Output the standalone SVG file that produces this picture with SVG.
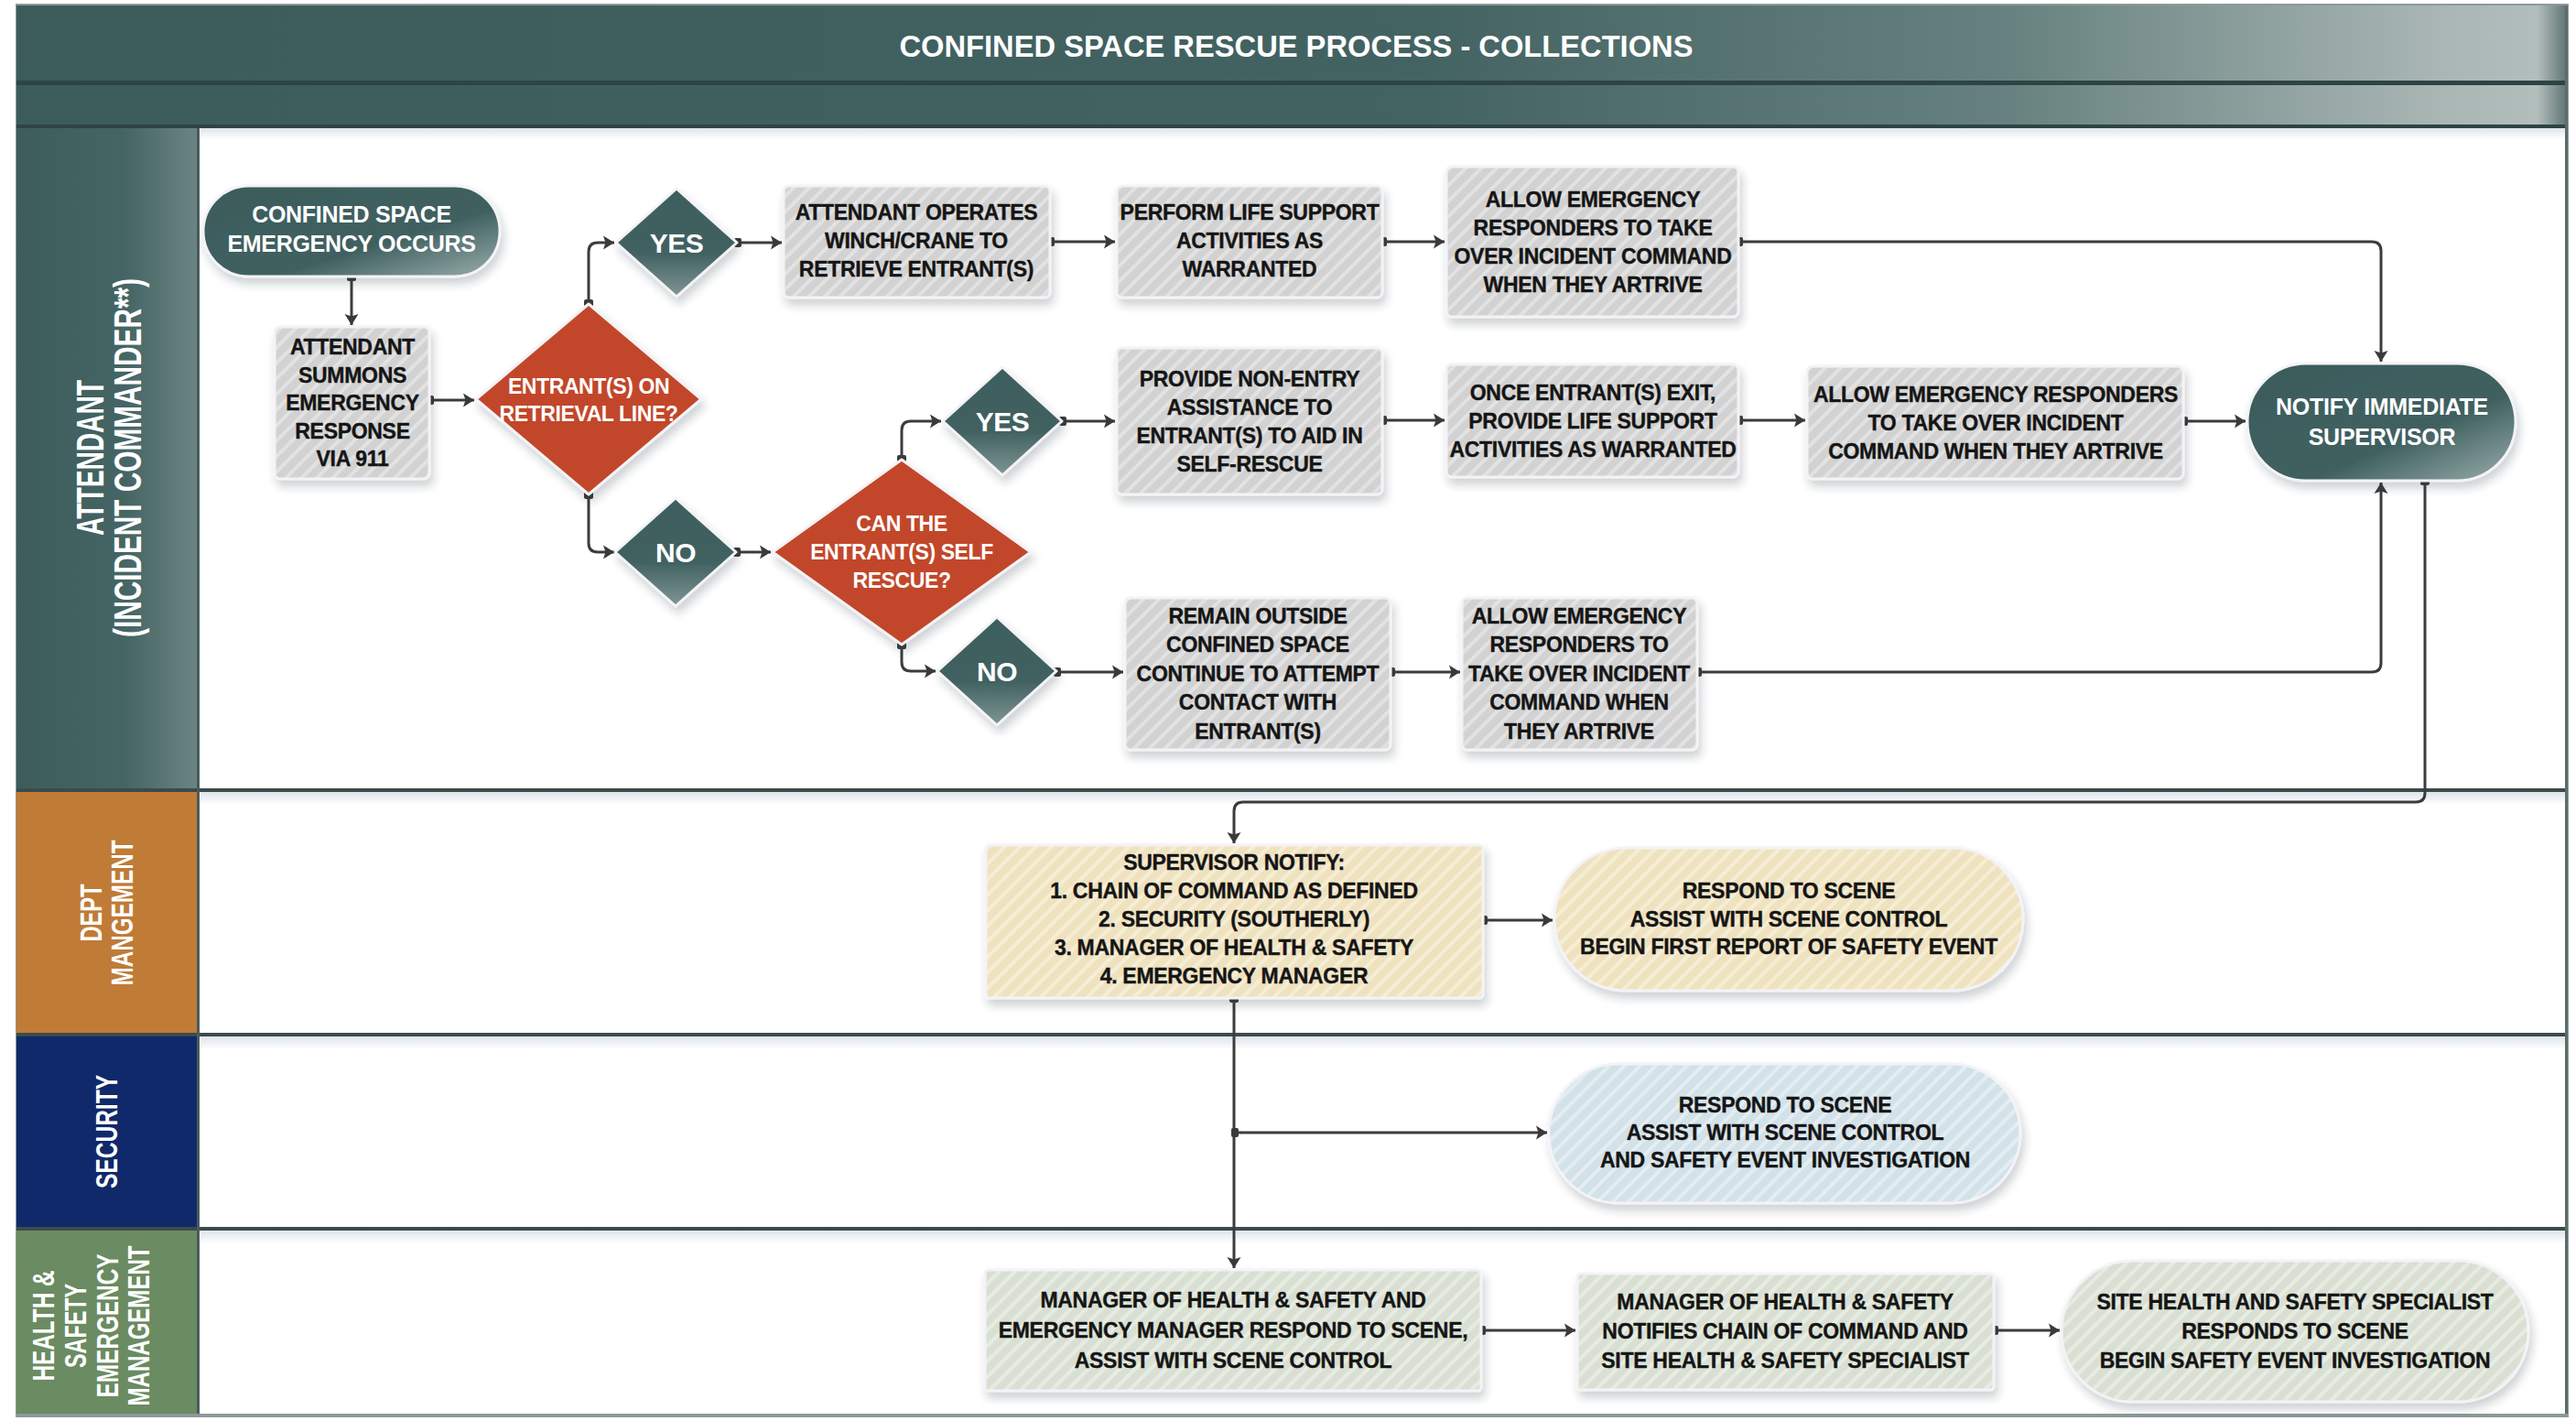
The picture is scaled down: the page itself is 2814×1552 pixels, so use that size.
<svg xmlns="http://www.w3.org/2000/svg" width="2814" height="1552" viewBox="0 0 2814 1552">
  <style>
    .lbl{font-family:"Liberation Sans",Arial,Helvetica,sans-serif;font-weight:700;text-anchor:middle}
    .dk{fill:#151515;font-size:23px;letter-spacing:-0.3px;stroke:#151515;stroke-width:0.4px}
    .wt{fill:#ffffff;font-size:25px;letter-spacing:-0.3px}
    .dq{fill:#ffffff;font-size:23px;letter-spacing:-0.4px}
    .yn{fill:#ffffff;font-size:30px;letter-spacing:-0.5px}
    .hd{fill:#ffffff;font-size:34px}
    .hd1{fill:#ffffff;font-size:42px}
    .tt{fill:#ffffff;font-size:34px}
    .box{stroke:#f3f3f7;stroke-width:3;filter:url(#shadow)}
    .conn path{fill:none;stroke:#3c3c3c;stroke-width:3;marker-start:url(#dot);marker-end:url(#arr)}
    .sep{fill:#3b4b4b}
  </style>
  <defs>
    <filter id="shadow" x="-10%" y="-15%" width="125%" height="140%">
      <feDropShadow dx="3" dy="7" stdDeviation="5" flood-color="#2a3340" flood-opacity="0.22"/>
    </filter>
    <linearGradient id="titleGrad" x1="0" y1="0" x2="1" y2="0">
      <stop offset="0" stop-color="#3c5b5b"/>
      <stop offset="0.55" stop-color="#436362"/>
      <stop offset="0.78" stop-color="#66817f"/>
      <stop offset="0.95" stop-color="#a9b6b4"/>
      <stop offset="0.988" stop-color="#b3bebc"/>
      <stop offset="1" stop-color="#5d7271"/>
    </linearGradient>
    <linearGradient id="laneHead" x1="0" y1="0" x2="1" y2="0">
      <stop offset="0" stop-color="#3d5c5c"/>
      <stop offset="0.6" stop-color="#456564"/>
      <stop offset="1" stop-color="#6b8483"/>
    </linearGradient>
    <linearGradient id="tealPill" x1="0" y1="0" x2="1" y2="1">
      <stop offset="0" stop-color="#3b5b5b"/>
      <stop offset="0.62" stop-color="#416161"/>
      <stop offset="1" stop-color="#9aaeac"/>
    </linearGradient>
    <linearGradient id="tealDia" x1="0" y1="0" x2="0" y2="1">
      <stop offset="0" stop-color="#3d5e5e"/>
      <stop offset="0.6" stop-color="#426262"/>
      <stop offset="1" stop-color="#7f9694"/>
    </linearGradient>
    <linearGradient id="laneShade" x1="0" y1="0" x2="0" y2="1">
      <stop offset="0" stop-color="#dfe4ea"/>
      <stop offset="1" stop-color="#ffffff"/>
    </linearGradient>
    <pattern id="hGrey" width="12" height="12" patternUnits="userSpaceOnUse" patternTransform="rotate(45)">
      <rect width="12" height="12" fill="#d2d2d2"/>
      <rect width="4" height="12" fill="#e2e2e2"/>
    </pattern>
    <pattern id="hCream" width="12" height="12" patternUnits="userSpaceOnUse" patternTransform="rotate(45)">
      <rect width="12" height="12" fill="#efe2bf"/>
      <rect width="4" height="12" fill="#f6edd5"/>
    </pattern>
    <pattern id="hBlue" width="12" height="12" patternUnits="userSpaceOnUse" patternTransform="rotate(45)">
      <rect width="12" height="12" fill="#d3e1e8"/>
      <rect width="4" height="12" fill="#e3edf2"/>
    </pattern>
    <pattern id="hSage" width="12" height="12" patternUnits="userSpaceOnUse" patternTransform="rotate(45)">
      <rect width="12" height="12" fill="#d9e0d3"/>
      <rect width="4" height="12" fill="#e7ece2"/>
    </pattern>
    <marker id="arr" markerUnits="userSpaceOnUse" markerWidth="14" markerHeight="18" refX="13" refY="9" orient="auto">
      <path d="M1,1.5 L13,9 L1,16.5 L3.5,9 z" fill="#3a3a3a"/>
    </marker>
    <marker id="dot" markerUnits="userSpaceOnUse" markerWidth="10" markerHeight="12" refX="3" refY="6" orient="auto">
      <rect x="0" y="1" width="8" height="10" rx="2" fill="#3a3a3a"/>
    </marker>
  </defs>

  <!-- page and frame -->
  <rect x="0" y="0" width="2814" height="1552" fill="#ffffff"/>
  <rect x="18" y="5" width="2787" height="1542" fill="#ffffff" stroke="#8d9998" stroke-width="2"/>

  <!-- title bands -->
  <g id="title">
    <rect x="18" y="6" width="2787" height="82" fill="url(#titleGrad)"/>
    <rect x="18" y="88" width="2787" height="5" fill="#2e4444"/>
    <rect x="18" y="93" width="2787" height="44" fill="url(#titleGrad)"/>
    <rect x="18" y="136" width="2787" height="4" fill="#2e4444"/>
    <text class="lbl tt" x="1416" y="62" textLength="867" lengthAdjust="spacingAndGlyphs">CONFINED SPACE RESCUE PROCESS - COLLECTIONS</text>
  </g>

  <!-- swimlanes -->
  <g id="lanes">
    <rect x="18" y="140" width="198" height="722" fill="url(#laneHead)"/>
    <rect x="18" y="865" width="198" height="264" fill="#c07b37"/>
    <rect x="18" y="1132" width="198" height="209" fill="#10296b"/>
    <rect x="18" y="1344" width="198" height="202" fill="#6b8b62"/>
    <rect x="219" y="865" width="2585" height="14" fill="url(#laneShade)"/>
    <rect x="219" y="1132" width="2585" height="14" fill="url(#laneShade)"/>
    <rect x="219" y="1344" width="2585" height="14" fill="url(#laneShade)"/>
    <rect x="219" y="140" width="2585" height="12" fill="url(#laneShade)"/>
    <rect class="sep" x="18" y="861" width="2787" height="4"/>
    <rect class="sep" x="18" y="1128" width="2787" height="4"/>
    <rect class="sep" x="18" y="1340" width="2787" height="4"/>
    <rect x="215" y="140" width="3" height="1406" fill="#4a5a5a"/>
    <rect x="2802" y="6" width="3" height="1540" fill="#5d6b6b"/>
    <rect x="18" y="1544" width="2787" height="3" fill="#8d9998"/>

    <text class="lbl hd1" transform="translate(113,500) rotate(-90)" textLength="170" lengthAdjust="spacingAndGlyphs">ATTENDANT</text>
    <text class="lbl hd1" transform="translate(154,500) rotate(-90)" textLength="392" lengthAdjust="spacingAndGlyphs">(INCIDENT COMMANDER**)</text>

    <text class="lbl hd" transform="translate(111,997) rotate(-90)" textLength="63" lengthAdjust="spacingAndGlyphs">DEPT</text>
    <text class="lbl hd" transform="translate(145,997) rotate(-90)" textLength="159" lengthAdjust="spacingAndGlyphs">MANGEMENT</text>

    <text class="lbl hd" transform="translate(128,1236) rotate(-90)" textLength="124" lengthAdjust="spacingAndGlyphs">SECURITY</text>

    <text class="lbl hd" transform="translate(59,1448) rotate(-90)" textLength="121" lengthAdjust="spacingAndGlyphs">HEALTH &amp;</text>
    <text class="lbl hd" transform="translate(94,1448) rotate(-90)" textLength="92" lengthAdjust="spacingAndGlyphs">SAFETY</text>
    <text class="lbl hd" transform="translate(129,1448) rotate(-90)" textLength="157" lengthAdjust="spacingAndGlyphs">EMERGENCY</text>
    <text class="lbl hd" transform="translate(163,1448) rotate(-90)" textLength="175" lengthAdjust="spacingAndGlyphs">MANAGEMENT</text>
  </g>

  <!-- connectors -->
  <g id="connectors" class="conn">
    <path d="M384,302 V355"/>
    <path d="M469,437 H518"/>
    <path d="M643,332 V275 Q643,265 653,265 H671"/>
    <path d="M643,540 V593 Q643,603 653,603 H671"/>
    <path d="M805,265 H854"/>
    <path d="M1147,264 H1218"/>
    <path d="M1510,264 H1578"/>
    <path d="M1899,264 H2591 Q2601,264 2601,274 V395"/>
    <path d="M804,603 H842"/>
    <path d="M985,502 V470 Q985,460 995,460 H1028"/>
    <path d="M985,704 V723 Q985,733 995,733 H1022"/>
    <path d="M1160,460 H1218"/>
    <path d="M1510,459 H1578"/>
    <path d="M1899,459 H1972"/>
    <path d="M2385,460 H2453"/>
    <path d="M1154,734 H1227"/>
    <path d="M1519,734 H1595"/>
    <path d="M1854,734 H2591 Q2601,734 2601,724 V527"/>
    <path d="M2649,525 V866 Q2649,876 2639,876 H1358 Q1348,876 1348,886 V921"/>
    <path d="M1620,1005 H1696"/>
    <path d="M1348,1090 V1385"/>
    <path d="M1348,1237 H1690"/>
    <path d="M1618,1453 H1721"/>
    <path d="M2178,1453 H2250"/>
  </g>

  <!-- attendant lane -->
  <g id="n-emergency-occurs">
    <rect class="box" x="222" y="203" width="324" height="99" rx="49.5" fill="url(#tealPill)"/>
    <text class="lbl wt" x="384" y="243">CONFINED SPACE</text>
    <text class="lbl wt" x="384" y="275">EMERGENCY OCCURS</text>
  </g>
  <g id="n-summons">
    <rect class="box" x="300" y="357" width="169" height="166" rx="6" fill="url(#hGrey)"/>
    <text class="lbl dk" x="385" y="387">ATTENDANT</text>
    <text class="lbl dk" x="385" y="418">SUMMONS</text>
    <text class="lbl dk" x="385" y="448">EMERGENCY</text>
    <text class="lbl dk" x="385" y="479">RESPONSE</text>
    <text class="lbl dk" x="385" y="509">VIA 911</text>
  </g>
  <g id="n-retrieval-line">
    <path class="box" d="M643,332 L766,436 L643,540 L520,436 Z" fill="#c2472b" stroke-linejoin="round"/>
    <text class="lbl dq" x="643" y="430">ENTRANT(S) ON</text>
    <text class="lbl dq" x="643" y="460">RETRIEVAL LINE?</text>
  </g>
  <g id="n-yes-1">
    <path class="box" d="M739,206 L805,265 L739,324 L673,265 Z" fill="url(#tealDia)" stroke-linejoin="round"/>
    <text class="lbl yn" x="739" y="276">YES</text>
  </g>
  <g id="n-no-1">
    <path class="box" d="M738,544 L804,603 L738,662 L672,603 Z" fill="url(#tealDia)" stroke-linejoin="round"/>
    <text class="lbl yn" x="738" y="614">NO</text>
  </g>
  <g id="n-self-rescue">
    <path class="box" d="M985,502 L1126,603 L985,704 L844,603 Z" fill="#c2472b" stroke-linejoin="round"/>
    <text class="lbl dq" x="985" y="580">CAN THE</text>
    <text class="lbl dq" x="985" y="611">ENTRANT(S) SELF</text>
    <text class="lbl dq" x="985" y="642">RESCUE?</text>
  </g>
  <g id="n-yes-2">
    <path class="box" d="M1095,401 L1160,460 L1095,519 L1030,460 Z" fill="url(#tealDia)" stroke-linejoin="round"/>
    <text class="lbl yn" x="1095" y="471">YES</text>
  </g>
  <g id="n-no-2">
    <path class="box" d="M1089,674 L1154,733 L1089,792 L1024,733 Z" fill="url(#tealDia)" stroke-linejoin="round"/>
    <text class="lbl yn" x="1089" y="744">NO</text>
  </g>
  <g id="n-winch">
    <rect class="box" x="856" y="203" width="291" height="122" rx="6" fill="url(#hGrey)"/>
    <text class="lbl dk" x="1001" y="240">ATTENDANT OPERATES</text>
    <text class="lbl dk" x="1001" y="271">WINCH/CRANE TO</text>
    <text class="lbl dk" x="1001" y="302">RETRIEVE ENTRANT(S)</text>
  </g>
  <g id="n-life-support-1">
    <rect class="box" x="1220" y="203" width="290" height="122" rx="6" fill="url(#hGrey)"/>
    <text class="lbl dk" x="1365" y="240">PERFORM LIFE SUPPORT</text>
    <text class="lbl dk" x="1365" y="271">ACTIVITIES AS</text>
    <text class="lbl dk" x="1365" y="302">WARRANTED</text>
  </g>
  <g id="n-handover-1">
    <rect class="box" x="1580" y="182" width="319" height="164" rx="6" fill="url(#hGrey)"/>
    <text class="lbl dk" x="1740" y="226">ALLOW EMERGENCY</text>
    <text class="lbl dk" x="1740" y="257">RESPONDERS TO TAKE</text>
    <text class="lbl dk" x="1740" y="288">OVER INCIDENT COMMAND</text>
    <text class="lbl dk" x="1740" y="319">WHEN THEY ARTRIVE</text>
  </g>
  <g id="n-non-entry">
    <rect class="box" x="1220" y="380" width="290" height="160" rx="6" fill="url(#hGrey)"/>
    <text class="lbl dk" x="1365" y="422">PROVIDE NON-ENTRY</text>
    <text class="lbl dk" x="1365" y="453">ASSISTANCE TO</text>
    <text class="lbl dk" x="1365" y="484">ENTRANT(S) TO AID IN</text>
    <text class="lbl dk" x="1365" y="515">SELF-RESCUE</text>
  </g>
  <g id="n-life-support-2">
    <rect class="box" x="1580" y="398" width="319" height="123" rx="6" fill="url(#hGrey)"/>
    <text class="lbl dk" x="1740" y="437">ONCE ENTRANT(S) EXIT,</text>
    <text class="lbl dk" x="1740" y="468">PROVIDE LIFE SUPPORT</text>
    <text class="lbl dk" x="1740" y="499">ACTIVITIES AS WARRANTED</text>
  </g>
  <g id="n-handover-2">
    <rect class="box" x="1974" y="400" width="411" height="123" rx="6" fill="url(#hGrey)"/>
    <text class="lbl dk" x="2180" y="439">ALLOW EMERGENCY RESPONDERS</text>
    <text class="lbl dk" x="2180" y="470">TO TAKE OVER INCIDENT</text>
    <text class="lbl dk" x="2180" y="501">COMMAND WHEN THEY ARTRIVE</text>
  </g>
  <g id="n-notify-supervisor">
    <rect class="box" x="2455" y="397" width="293" height="128" rx="64" fill="url(#tealPill)"/>
    <text class="lbl wt" x="2602" y="453">NOTIFY IMMEDIATE</text>
    <text class="lbl wt" x="2602" y="486">SUPERVISOR</text>
  </g>
  <g id="n-remain-outside">
    <rect class="box" x="1229" y="653" width="290" height="166" rx="6" fill="url(#hGrey)"/>
    <text class="lbl dk" x="1374" y="681">REMAIN OUTSIDE</text>
    <text class="lbl dk" x="1374" y="712">CONFINED SPACE</text>
    <text class="lbl dk" x="1374" y="744">CONTINUE TO ATTEMPT</text>
    <text class="lbl dk" x="1374" y="775">CONTACT WITH</text>
    <text class="lbl dk" x="1374" y="807">ENTRANT(S)</text>
  </g>
  <g id="n-handover-3">
    <rect class="box" x="1597" y="653" width="257" height="166" rx="6" fill="url(#hGrey)"/>
    <text class="lbl dk" x="1725" y="681">ALLOW EMERGENCY</text>
    <text class="lbl dk" x="1725" y="712">RESPONDERS TO</text>
    <text class="lbl dk" x="1725" y="744">TAKE OVER INCIDENT</text>
    <text class="lbl dk" x="1725" y="775">COMMAND WHEN</text>
    <text class="lbl dk" x="1725" y="807">THEY ARTRIVE</text>
  </g>

  <!-- department management lane -->
  <g id="n-supervisor-notify">
    <rect class="box" x="1077" y="923" width="543" height="167" rx="4" fill="url(#hCream)"/>
    <text class="lbl dk" x="1348" y="950">SUPERVISOR NOTIFY:</text>
    <text class="lbl dk" x="1348" y="981">1. CHAIN OF COMMAND AS DEFINED</text>
    <text class="lbl dk" x="1348" y="1012">2. SECURITY (SOUTHERLY)</text>
    <text class="lbl dk" x="1348" y="1043">3. MANAGER OF HEALTH &amp; SAFETY</text>
    <text class="lbl dk" x="1348" y="1074">4. EMERGENCY MANAGER</text>
  </g>
  <g id="n-dept-respond">
    <rect class="box" x="1698" y="926" width="512" height="156" rx="78" fill="url(#hCream)"/>
    <text class="lbl dk" x="1954" y="981">RESPOND TO SCENE</text>
    <text class="lbl dk" x="1954" y="1012">ASSIST WITH SCENE CONTROL</text>
    <text class="lbl dk" x="1954" y="1042">BEGIN FIRST REPORT OF SAFETY EVENT</text>
  </g>

  <!-- security lane -->
  <g id="n-security-respond">
    <rect class="box" x="1692" y="1162" width="515" height="152" rx="76" fill="url(#hBlue)"/>
    <text class="lbl dk" x="1950" y="1215">RESPOND TO SCENE</text>
    <text class="lbl dk" x="1950" y="1245">ASSIST WITH SCENE CONTROL</text>
    <text class="lbl dk" x="1950" y="1275">AND SAFETY EVENT INVESTIGATION</text>
  </g>

  <!-- health & safety / emergency management lane -->
  <g id="n-managers-respond">
    <rect class="box" x="1076" y="1387" width="542" height="132" rx="4" fill="url(#hSage)"/>
    <text class="lbl dk" x="1347" y="1428">MANAGER OF HEALTH &amp; SAFETY AND</text>
    <text class="lbl dk" x="1347" y="1461">EMERGENCY MANAGER RESPOND TO SCENE,</text>
    <text class="lbl dk" x="1347" y="1494">ASSIST WITH SCENE CONTROL</text>
  </g>
  <g id="n-notify-specialist">
    <rect class="box" x="1723" y="1391" width="455" height="127" rx="4" fill="url(#hSage)"/>
    <text class="lbl dk" x="1950" y="1430">MANAGER OF HEALTH &amp; SAFETY</text>
    <text class="lbl dk" x="1950" y="1462">NOTIFIES CHAIN OF COMMAND AND</text>
    <text class="lbl dk" x="1950" y="1494">SITE HEALTH &amp; SAFETY SPECIALIST</text>
  </g>
  <g id="n-specialist-respond">
    <rect class="box" x="2252" y="1377" width="510" height="154" rx="77" fill="url(#hSage)"/>
    <text class="lbl dk" x="2507" y="1430">SITE HEALTH AND SAFETY SPECIALIST</text>
    <text class="lbl dk" x="2507" y="1462">RESPONDS TO SCENE</text>
    <text class="lbl dk" x="2507" y="1494">BEGIN SAFETY EVENT INVESTIGATION</text>
  </g>
</svg>
